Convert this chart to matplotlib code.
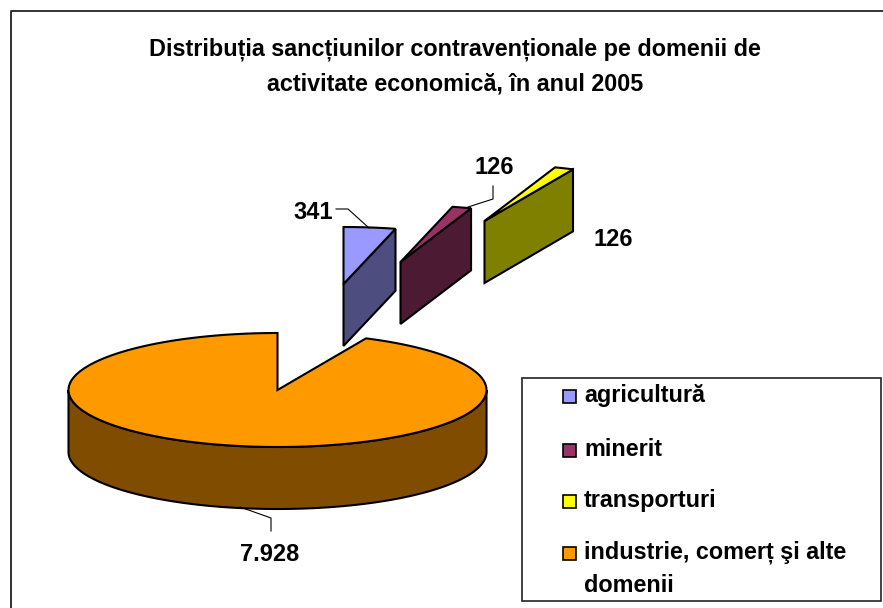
import numpy as np
import matplotlib
matplotlib.use("Agg")
import matplotlib.pyplot as plt
from matplotlib.patches import Polygon, Rectangle

# date
categories = ["agricultură", "minerit", "transporturi", "industrie, comerț şi alte\ndomenii"]
values = [341, 126, 126, 7928]
value_labels = ["341", "126", "126", "7.928"]
top_colors = ["#9999FF", "#993366", "#FFFF00", "#FF9900"]
side_colors = ["#4D4D80", "#4D1A33", "#808000", "#804D00"]

title = "Distribuția sancțiunilor contravenționale pe domenii de\nactivitate economică, în anul 2005"

# geometrie in pixeli (axa y inversata)
CX, CY = 277.5, 390.0
RX, RY = 209.0, 57.0
DEPTH = 62.0
explode = [(66, -106), (123, -128), (207, -169), (0, 0)]

plt.rcParams["font.family"] = ["Liberation Sans", "DejaVu Sans"]
plt.rcParams["font.weight"] = "bold"

fig = plt.figure(figsize=(8.83, 6.08), dpi=100)
ax = fig.add_axes([0, 0, 1, 1])
ax.set_xlim(0, 883)
ax.set_ylim(608, 0)
ax.axis("off")

# cadrul graficului (dreapta si jos sunt taiate in original)
ax.plot([11, 11, 883], [608, 11, 11], color="#222222", lw=1.3, zorder=1)


def arc(a0, a1, ox, oy, dz=0.0):
    # unghiuri in sens orar de la ora 12
    t = np.radians(np.linspace(a0, a1, 200))
    return np.column_stack([CX + ox + RX * np.sin(t), CY + oy - RY * np.cos(t) + dz])


angles = np.cumsum([0] + values) / sum(values) * 360

for i in range(len(values)):
    a0, a1 = angles[i], angles[i + 1]
    ox, oy = explode[i]
    apex = np.array([CX + ox, CY + oy])
    z = 5 + i * 0.1
    if i < 3:
        # fata taiata vizibila, de la centru la capatul arcului
        end = arc(a1, a1, ox, oy)[0]
        side = [apex, end, end + [0, DEPTH], apex + [0, DEPTH]]
        ax.add_patch(Polygon(side, closed=True, fc=side_colors[i], ec="black", lw=1.5, zorder=z))
    else:
        # peretele din fata al feliei mari
        front = arc(90, 270, ox, oy)
        wall = np.vstack([front, front[::-1] + [0, DEPTH]])
        ax.add_patch(Polygon(wall, closed=True, fc=side_colors[i], ec="black", lw=1.5, zorder=z))
    top = np.vstack([apex, arc(a0, a1, ox, oy)])
    ax.add_patch(Polygon(top, closed=True, fc=top_colors[i], ec="black", lw=1.5, zorder=z + 0.05))

# etichete si linii de legatura
label_pos = [(313, 212.5), (494, 167), (613, 240), (270, 554.5)]
leaders = [
    [(336, 209), (348, 209), (369, 228)],
    [(493, 186), (493, 199), (465, 208)],
    None,
    [(271, 531), (271, 518), (240, 507)],
]
for txt, (x, y), ld in zip(value_labels, label_pos, leaders):
    ax.text(x, y, txt, fontsize=17, ha="center", va="center", color="black", zorder=10)
    if ld:
        ax.plot(*zip(*ld), color="black", lw=0.8, zorder=9)

ax.text(455, 66.5, title, fontsize=16.8, ha="center", va="center", linespacing=1.62, color="black")

# legenda
ax.add_patch(Rectangle((521.5, 378), 359.5, 222.5, fc="white", ec="#222222", lw=1.2, zorder=2))
legend_y = [396, 450, 501, 553]
for name, col, y in zip(categories, top_colors, legend_y):
    ax.add_patch(Rectangle((563, y - 6.5), 13, 13, fc=col, ec="black", lw=1.2, zorder=3))
    ax.text(584, y - 12, name, fontsize=16.8, ha="left", va="top", linespacing=1.5, zorder=3)

fig.savefig("out.png", dpi=100)
